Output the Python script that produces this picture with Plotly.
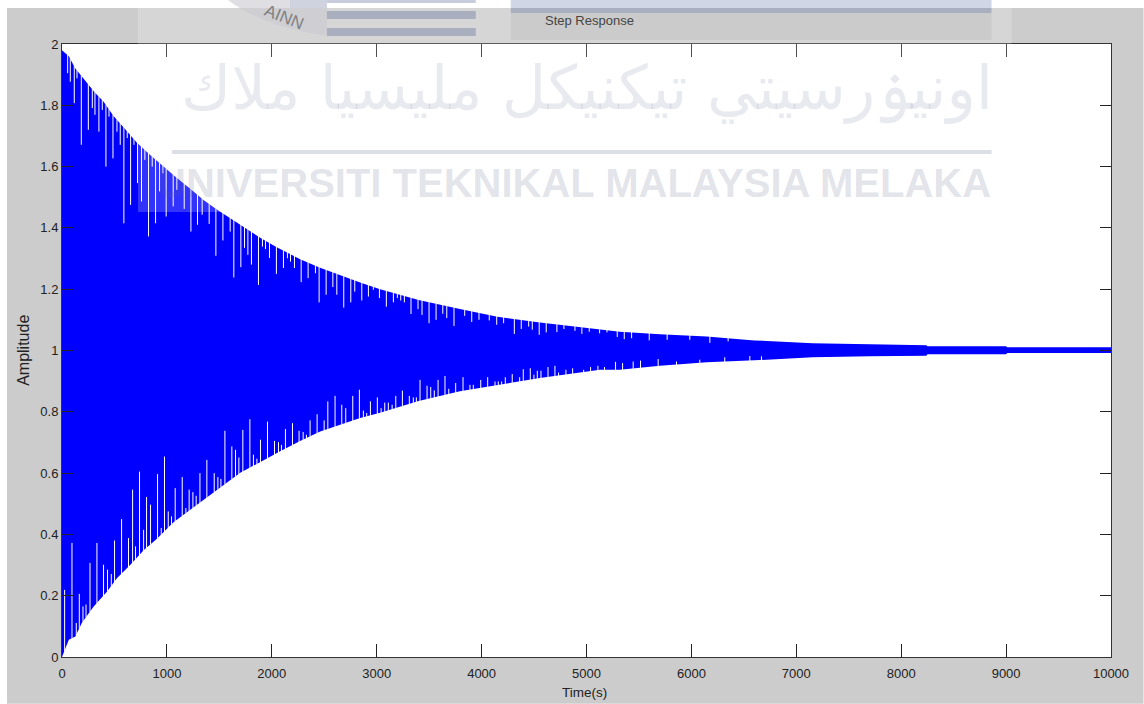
import numpy as np
import plotly.graph_objects as go

x_ticks = [0, 1000, 2000, 3000, 4000, 5000, 6000, 7000, 8000, 9000, 10000]
x_tick_text = ["0", "1000", "2000", "3000", "4000", "5000", "6000", "7000", "8000", "9000", "10000"]
y_ticks = [0, 0.2, 0.4, 0.6, 0.8, 1, 1.2, 1.4, 1.6, 1.8, 2]
y_tick_text = ["0", "0.2", "0.4", "0.6", "0.8", "1", "1.2", "1.4", "1.6", "1.8", "2"]

upper_t = [0, 65, 127, 175, 253, 317, 395, 491, 603, 714, 841, 968, 1095, 1222, 1349, 1476, 1635, 1793, 1889, 2047,
           2270, 2460, 2651, 2842, 3032, 3400, 3793, 4150, 4556, 5128, 5318, 5700, 6146, 6600, 7156, 7700, 8240, 8250,
           9000, 9010, 10000]
upper_v = [1.98, 1.96, 1.92, 1.90, 1.867, 1.84, 1.812, 1.765, 1.722, 1.678, 1.638, 1.60, 1.563, 1.528, 1.491, 1.46,
           1.425, 1.39, 1.368, 1.337, 1.298, 1.27, 1.245, 1.222, 1.2, 1.165, 1.135, 1.11, 1.091, 1.067, 1.061, 1.053,
           1.046, 1.033, 1.024, 1.02, 1.017, 1.014, 1.014, 1.011, 1.011]
lower_t = [0, 25, 65, 127, 190, 300, 430, 525, 652, 778, 905, 1063, 1222, 1413, 1603, 1699, 2080, 2270, 2461, 2842,
           3032, 3400, 3793, 4300, 4556, 5128, 5318, 5700, 6146, 6600, 7156, 7700, 8240, 8250, 9000, 9010, 10000]
lower_v = [0.0, 0.02, 0.056, 0.067, 0.112, 0.164, 0.214, 0.258, 0.301, 0.348, 0.386, 0.44, 0.48, 0.529, 0.578, 0.601,
           0.671, 0.705, 0.736, 0.78, 0.797, 0.835, 0.867, 0.895, 0.91, 0.937, 0.937, 0.95, 0.962, 0.968, 0.978, 0.981,
           0.983, 0.988, 0.988, 0.992, 0.992]

notch_top_t = [54, 79, 117, 143, 184, 251, 289, 314, 352, 384, 419, 448, 486, 524, 555, 590, 622, 654, 686, 720, 758,
               790, 825, 860, 892, 930, 962, 993, 1060, 1095, 1165, 1229, 1292, 1336, 1403, 1467, 1534, 1603, 1638,
               1705, 1740, 1772, 1806, 1873, 1911, 1940, 1978, 2044, 2111, 2149, 2178, 2216, 2280, 2346, 2416, 2451,
               2518, 2582, 2620, 2686, 2753, 2791, 2858, 2921, 2968, 3026, 3092, 3159, 3197, 3229, 3264, 3327, 3394,
               3432, 3499, 3566, 3630, 3668, 3737, 3839, 3906, 3975, 4073, 4144, 4210, 4312, 4378, 4449, 4483, 4549,
               4616, 4718, 4785, 4890, 4956, 5026, 5125, 5195, 5293, 5360, 5430, 5598, 5769, 5985, 6176, 6350]
notch_top_v = [1.905, 1.877, 1.807, 1.888, 1.671, 1.72, 1.791, 1.769, 1.714, 1.785, 1.6, 1.763, 1.627, 1.714, 1.671,
               1.415, 1.693, 1.475, 1.671, 1.546, 1.486, 1.622, 1.372, 1.6, 1.415, 1.519, 1.578, 1.437, 1.47, 1.524,
               1.462, 1.388, 1.41, 1.443, 1.413, 1.309, 1.359, 1.388, 1.238, 1.272, 1.335, 1.312, 1.28, 1.214, 1.339,
               1.331, 1.302, 1.25, 1.269, 1.301, 1.29, 1.269, 1.223, 1.236, 1.252, 1.157, 1.182, 1.207, 1.182, 1.14,
               1.157, 1.192, 1.163, 1.176, 1.198, 1.171, 1.143, 1.157, 1.171, 1.163, 1.157, 1.119, 1.135, 1.116, 1.089,
               1.1, 1.12, 1.106, 1.08, 1.113, 1.093, 1.1, 1.098, 1.084, 1.089, 1.054, 1.07, 1.078, 1.068, 1.051, 1.059,
               1.06, 1.07, 1.064, 1.054, 1.061, 1.056, 1.059, 1.044, 1.037, 1.04, 1.033, 1.035, 1.035, 1.025, 1.03]

notch_bot_t = [25, 95, 136, 165, 200, 229, 267, 333, 396, 434, 470, 501, 568, 634, 673, 701, 739, 778, 806, 844, 911,
               946, 977, 1013, 1044, 1079, 1146, 1181, 1212, 1248, 1279, 1315, 1381, 1451, 1486, 1515, 1553, 1619,
               1654, 1686, 1724, 1791, 1825, 1858, 1892, 1959, 2026, 2064, 2092, 2130, 2197, 2260, 2299, 2330, 2365,
               2432, 2499, 2534, 2603, 2667, 2705, 2772, 2835, 2873, 2905, 2940, 3006, 3042, 3077, 3111, 3147, 3182,
               3245, 3311, 3349, 3378, 3413, 3480, 3515, 3549, 3585, 3651, 3687, 3753, 3823, 3889, 3921, 3992, 4058,
               4128, 4159, 4191, 4226, 4292, 4363, 4397, 4464, 4499, 4531, 4566, 4633, 4699, 4734, 4804, 4868, 4973,
               5039, 5109, 5172, 5277, 5344, 5445, 5515, 5683, 5858, 6080, 6318, 6557, 6668]
notch_bot_v = [0.219, 0.372, 0.111, 0.206, 0.165, 0.171, 0.307, 0.372, 0.301, 0.285, 0.271, 0.38, 0.45, 0.388, 0.546,
               0.361, 0.605, 0.415, 0.522, 0.497, 0.597, 0.421, 0.654, 0.475, 0.459, 0.551, 0.587, 0.486, 0.546, 0.538,
               0.526, 0.6, 0.643, 0.6, 0.587, 0.581, 0.738, 0.687, 0.676, 0.651, 0.741, 0.776, 0.66, 0.647, 0.709,
               0.768, 0.705, 0.701, 0.692, 0.744, 0.763, 0.738, 0.734, 0.725, 0.772, 0.792, 0.772, 0.834, 0.852, 0.823,
               0.812, 0.852, 0.872, 0.804, 0.796, 0.834, 0.847, 0.812, 0.83, 0.83, 0.823, 0.852, 0.869, 0.852, 0.847,
               0.847, 0.904, 0.885, 0.881, 0.87, 0.904, 0.917, 0.875, 0.894, 0.913, 0.888, 0.888, 0.904, 0.913, 0.899,
               0.899, 0.899, 0.913, 0.923, 0.913, 0.939, 0.942, 0.921, 0.934, 0.934, 0.946, 0.95, 0.928, 0.937, 0.942,
               0.937, 0.946, 0.95, 0.946, 0.963, 0.959, 0.964, 0.967, 0.972, 0.964, 0.97, 0.978, 0.982, 0.981]

FIG_W, FIG_H = 1144, 704
L, R, T, B = 62, 1111.5, 44, 657.3


def fx(px):
    return (px - L) / (R - L)


def fy(py):
    return (B - py) / (B - T)


def rect(x0, y0, x1, y1, color, layer="above", opacity=1):
    return dict(type="rect", xref="paper", yref="paper", x0=fx(x0), x1=fx(x1), y0=fy(y0), y1=fy(y1),
                fillcolor=color, line_width=0, layer=layer, opacity=opacity)


notch_top_x, notch_top_y = [], []
for t, v in zip(notch_top_t, notch_top_v):
    notch_top_x += [t, t, None]
    notch_top_y += [v, float(np.interp(t, upper_t, upper_v)) + 0.002, None]
notch_bot_x, notch_bot_y = [], []
for t, v in zip(notch_bot_t, notch_bot_v):
    notch_bot_x += [t, t, None]
    notch_bot_y += [float(np.interp(t, lower_t, lower_v)) - 0.002, v, None]

fig = go.Figure()
fig.add_trace(go.Scatter(x=lower_t, y=lower_v, mode="lines", line=dict(color="#0000ff", width=0), showlegend=False))
fig.add_trace(go.Scatter(x=upper_t, y=upper_v, mode="lines", line=dict(color="#0000ff", width=0), fill="tonexty",
                         fillcolor="#0000ff", showlegend=False))
fig.add_trace(go.Scatter(x=notch_top_x, y=notch_top_y, mode="lines", line=dict(color="#ffffff", width=1),
                         showlegend=False))
fig.add_trace(go.Scatter(x=notch_bot_x, y=notch_bot_y, mode="lines", line=dict(color="#ffffff", width=1),
                         showlegend=False))

FONT = "Liberation Sans, sans-serif"
axis = dict(showgrid=False, zeroline=False, showline=True, linecolor="#333333", linewidth=1, mirror="ticks",
            ticks="inside", tickcolor="#222222", tickwidth=1, automargin=False,
            tickfont=dict(family=FONT, size=13, color="#222222"))

shapes = [
    rect(7, 8, 1144, 704, "#cccccc", layer="below"),
    rect(62, 44, 1111.5, 657.3, "#ffffff", layer="below"),
    # watermark wash and header strips
    rect(138, 8, 1012, 212, "#ffffff", opacity=0.2),
    rect(511, 0, 992, 8, "#d0d6e6"),
    rect(511, 8, 992, 13, "#a9afbe"),
    rect(511, 13, 992, 40, "#cbcbcb"),
    rect(327, 0, 476, 3, "#c8ccdc"),
    rect(327, 3, 476, 8, "#ffffff"),
    rect(327, 11, 476, 19, "#a9afbe"),
    rect(327, 28, 476, 36, "#a9afbe"),
    rect(172, 150, 992, 154, "#dcdfe6"),
    dict(type="path", xref="paper", yref="paper",
         path="M {} {} Q {} {} {} {} L {} {} L {} {} Z".format(fx(228), fy(0), fx(262), fy(26), fx(327), fy(36),
                                                              fx(327), fy(0), fx(228), fy(0)),
         fillcolor="#c9cad0", opacity=0.6, line_width=0, layer="above"),
    rect(290, 0, 327, 8, "#cfd3e0"),
]

annotations = [
    dict(text="Step Response", xref="paper", yref="paper", x=fx(590), y=fy(20), xanchor="center", yanchor="middle",
         showarrow=False, font=dict(family=FONT, size=13, color="#444444")),
    dict(text="AINN", xref="paper", yref="paper", x=fx(285), y=fy(17), xanchor="center", yanchor="middle",
         textangle=22, showarrow=False, font=dict(family="Liberation Sans", size=17, color="#808080")),
    dict(text="اونيۏرسيتي تيكنيكل مليسيا ملاك", xref="paper", yref="paper", x=fx(587), y=fy(88),
         xanchor="center", yanchor="middle", showarrow=False,
         font=dict(family="DejaVu Sans", size=61, color="rgba(90,105,150,0.14)")),
    dict(text="UNIVERSITI TEKNIKAL MALAYSIA MELAKA", xref="paper", yref="paper", x=fx(993), y=fy(183),
         xanchor="right", yanchor="middle", showarrow=False,
         font=dict(family="Liberation Sans", size=40, weight="bold", color="rgba(80,90,130,0.18)")),
    dict(text="Time(s)", xref="paper", yref="paper", x=fx(585), y=fy(693), xanchor="center", yanchor="middle",
         showarrow=False, font=dict(family=FONT, size=13.5, color="#222222")),
    dict(text="Amplitude", xref="paper", yref="paper", x=fx(24), y=fy(351), xanchor="center", yanchor="middle",
         textangle=-90, showarrow=False, font=dict(family=FONT, size=16, color="#222222")),
]

fig.update_layout(
    width=FIG_W, height=FIG_H, autosize=False,
    margin=dict(l=L, r=FIG_W - R, t=T, b=FIG_H - B, pad=0),
    paper_bgcolor="#ffffff", plot_bgcolor="rgba(0,0,0,0)",
    xaxis=dict(axis, range=[0, 10000], tickvals=x_ticks, ticktext=x_tick_text, ticklen=13, ticklabelstandoff=4),
    yaxis=dict(axis, range=[0, 2], tickvals=y_ticks, ticktext=y_tick_text, ticklen=11),
    shapes=shapes, annotations=annotations, showlegend=False,
)
fig.write_html("out.html", config=dict(displayModeBar=False),
               post_script="document.body.style.margin='0';document.body.style.overflow='hidden';")
